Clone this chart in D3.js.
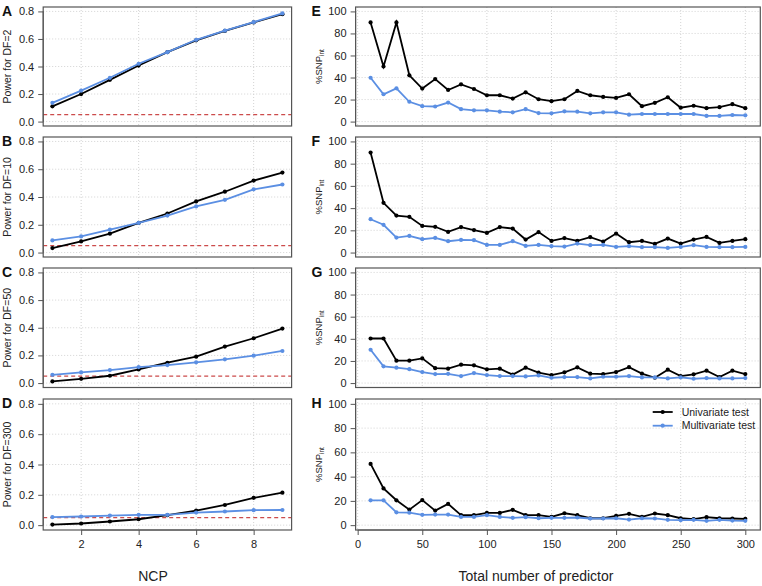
<!DOCTYPE html>
<html>
<head>
<meta charset="utf-8">
<script src="https://cdn.jsdelivr.net/npm/d3@7"></script>
<style>
  html, body { margin: 0; padding: 0; background: #fff; }
  svg { display: block; font-family: "Liberation Sans", Arial, sans-serif; }
  .grid line { stroke: #d3d3d3; stroke-width: 1; stroke-dasharray: 1,2; }
  .tick-lab { font-size: 11px; fill: #222; }
</style>
</head>
<body>
<div id="chart"></div>
<script>
/* Power curves (A-D) and %SNP_int curves (E-H), two tests each. */

const NCP = [1, 2, 3, 4, 5, 6, 7, 8, 9];
const DF = [2, 10, 50, 300];
const POWER_LETTERS = ["A", "B", "C", "D"];
const SNP_LETTERS = ["E", "F", "G", "H"];

const powerUni = [
  [0.111, 0.200, 0.303, 0.407, 0.504, 0.590, 0.658, 0.720, 0.780],
  [0.032, 0.080, 0.136, 0.213, 0.281, 0.368, 0.438, 0.518, 0.576],
  [0.012, 0.031, 0.053, 0.099, 0.147, 0.191, 0.264, 0.324, 0.394],
  [0.004, 0.011, 0.024, 0.039, 0.066, 0.096, 0.133, 0.180, 0.214],
];
const powerMulti = [
  [0.136, 0.225, 0.318, 0.420, 0.504, 0.594, 0.660, 0.722, 0.785],
  [0.087, 0.116, 0.165, 0.213, 0.266, 0.332, 0.380, 0.455, 0.490],
  [0.060, 0.077, 0.094, 0.116, 0.130, 0.150, 0.172, 0.198, 0.232],
  [0.053, 0.057, 0.063, 0.068, 0.068, 0.083, 0.090, 0.099, 0.100],
];
const ALPHA = 0.05;

const PREDICTORS = d3.range(10, 301, 10);
const snpUni = [
  [90, 50, 90, 42, 30, 38.6, 28.7, 33.8, 29.6, 23.9, 23.9, 20.9, 26.6, 20.3, 18.5, 20.3, 27.8, 23.9, 22.4, 21.5,
   24.8, 14, 17, 22.1, 12.6, 14.4, 12.2, 13.1, 15.8, 12.2],
  [90, 44.8, 33.3, 32.2, 24, 23.2, 18.6, 22.9, 20.2, 17.7, 22.9, 21.6, 11.7, 18.4, 10.5, 13, 10.5, 13.9, 9.9, 17.1,
   9.3, 10.5, 7.8, 12.6, 8.1, 11.7, 14.1, 8.7, 10.5, 12],
  [40.3, 40.3, 20.2, 20.2, 22.3, 13.5, 13, 16.6, 16, 12.4, 13, 7.6, 13.9, 9.4, 7.2, 9.7, 14.2, 8.5, 8.1, 9.9,
   14.4, 8.5, 4.8, 12.1, 6.3, 7.9, 11.2, 5.4, 11.2, 8.1],
  [50.5, 30.3, 20.5, 12.8, 20.7, 12, 17.5, 8.2, 8.2, 10.1, 10.1, 12.6, 8.2, 8.2, 6.8, 9.8, 8.2, 5.7, 5.7, 7.6,
   9.3, 6.8, 9.6, 8.2, 5.7, 4.9, 6.6, 5.7, 5.5, 5.2],
];
const snpMulti = [
  [39.8, 24.8, 30.2, 18, 14, 13.7, 17.3, 11.3, 10.2, 10.2, 9, 8.4, 11.3, 7.7, 7.5, 9.3, 9, 7.5, 8.4, 8.4,
   6.3, 6.9, 6.9, 6.9, 6.9, 6.9, 5.1, 5.1, 6, 5.7],
  [30, 25, 13.5, 15, 12, 13.2, 10.2, 11.4, 11.1, 6.9, 6.9, 10.2, 6, 6.9, 5.7, 5.4, 8.1, 6.6, 6.9, 5.1,
   5.7, 4.8, 4.8, 4.2, 5.1, 6.6, 5.1, 4.8, 4.8, 5.1],
  [30.1, 15.1, 13.9, 12.6, 9.9, 8.1, 8.4, 6.3, 9, 7.2, 6.3, 6.3, 6, 6.9, 4.8, 5.4, 5.4, 4.2, 5.7, 5.7,
   6.3, 5.1, 5.1, 4.2, 5.1, 3.9, 4.5, 4.2, 4.2, 4.5],
  [20.5, 20.5, 10.6, 10.3, 8.5, 8.7, 8.7, 6.8, 6.8, 8.2, 6.8, 6, 6.6, 5.7, 6, 6, 6.3, 5.5, 5.5, 5.7,
   4.6, 5.7, 5.5, 4.4, 4.1, 4.4, 3.6, 4.4, 3.8, 3.6],
];

const POWER_TICKS = [0, 0.2, 0.4, 0.6, 0.8];
const NCP_TICKS = [2, 4, 6, 8];
const SNP_TICKS = [0, 20, 40, 60, 80, 100];
const PRED_TICKS = [0, 50, 100, 150, 200, 250, 300];
const SERIES_NAMES = ["Univariate test", "Multivariate test"];

const COLORS = { uni: "#000000", multi: "#5b8fe3", alpha: "#cc4b4b", box: "#555555" };

const W = 762, H = 586;
const rows = [
  { top: 7, bottom: 126 },
  { top: 137, bottom: 257 },
  { top: 268, bottom: 387.5 },
  { top: 399, bottom: 530 },
];
const leftX = [43.2, 291.6];
const rightX = [355.6, 760.3];

const svg = d3.select("#chart").append("svg")
  .attr("width", W).attr("height", H).attr("viewBox", `0 0 ${W} ${H}`);

// R-like 4% expansion of a data range
function expand(lo, hi) {
  const d = (hi - lo) * 0.04;
  return [lo - d, hi + d];
}

function panel(opts) {
  const { x, y, xTicks, yTicks, xFmt, yFmt, showX, uni, multi, xs, letter, letterX, ylab, ylabX } = opts;
  const g = svg.append("g");
  const [x0, x1] = x.range();
  const [y1, y0] = y.range();

  // dotted grid
  const grid = g.append("g").attr("class", "grid");
  xTicks.forEach(t => grid.append("line")
    .attr("x1", x(t)).attr("x2", x(t)).attr("y1", y0).attr("y2", y1));
  yTicks.forEach(t => grid.append("line")
    .attr("x1", x0).attr("x2", x1).attr("y1", y(t)).attr("y2", y(t)));

  if (opts.alpha != null) {
    g.append("line")
      .attr("x1", x0).attr("x2", x1).attr("y1", y(opts.alpha)).attr("y2", y(opts.alpha))
      .attr("stroke", COLORS.alpha).attr("stroke-width", 1.2).attr("stroke-dasharray", "4,3");
  }

  const line = d3.line().x((d, i) => x(xs[i])).y(d => y(d));
  [[uni, COLORS.uni], [multi, COLORS.multi]].forEach(([vals, col]) => {
    g.append("path").datum(vals).attr("fill", "none")
      .attr("stroke", col).attr("stroke-width", 1.8).attr("d", line);
    g.selectAll(null).data(vals).enter().append("circle")
      .attr("cx", (d, i) => x(xs[i])).attr("cy", d => y(d)).attr("r", 2.1).attr("fill", col);
  });

  // box
  g.append("rect").attr("x", x0).attr("y", y0).attr("width", x1 - x0).attr("height", y1 - y0)
    .attr("fill", "none").attr("stroke", COLORS.box).attr("stroke-width", 1.2);

  // y axis
  const ya = g.append("g").attr("transform", `translate(${x0},0)`)
    .call(d3.axisLeft(y).tickValues(yTicks).tickSize(5).tickPadding(4).tickFormat(yFmt));
  ya.select(".domain").attr("stroke", COLORS.box)
    .attr("d", `M${0},${y(yTicks[0])}V${y(yTicks[yTicks.length - 1])}`);
  ya.selectAll(".tick line").attr("stroke", COLORS.box);
  ya.selectAll(".tick text").attr("class", "tick-lab").attr("font-family", null).attr("font-size", null);

  if (showX) {
    const xa = g.append("g").attr("transform", `translate(0,${y1})`)
      .call(d3.axisBottom(x).tickValues(xTicks).tickSize(5).tickPadding(5).tickFormat(xFmt));
    xa.select(".domain").attr("stroke", COLORS.box)
      .attr("d", `M${x(xTicks[0])},0H${x(xTicks[xTicks.length - 1])}`);
    xa.selectAll(".tick line").attr("stroke", COLORS.box);
    xa.selectAll(".tick text").attr("class", "tick-lab").attr("font-family", null).attr("font-size", null);
  }

  g.append("text").attr("x", letterX).attr("y", y0 + 8.5)
    .attr("font-weight", 700).attr("font-size", 14).attr("fill", "#111").text(letter);

  const lab = g.append("text")
    .attr("transform", `translate(${ylabX},${(y0 + y1) / 2}) rotate(-90)`)
    .attr("text-anchor", "middle").attr("fill", "#222");
  ylab(lab);
}

rows.forEach((r, i) => {
  const last = i === rows.length - 1;
  const yP = d3.scaleLinear().domain(expand(0, 0.8)).range([r.bottom, r.top]);
  const xP = d3.scaleLinear().domain(expand(1, 9)).range(leftX);
  panel({
    x: xP, y: yP, xTicks: NCP_TICKS, yTicks: POWER_TICKS,
    xFmt: d3.format("d"), yFmt: d3.format(".1f"), showX: last,
    uni: powerUni[i], multi: powerMulti[i], xs: NCP, alpha: ALPHA,
    letter: POWER_LETTERS[i], letterX: 2,
    ylabX: 10.5,
    ylab: t => t.attr("font-size", 10.5).text("Power for DF=" + DF[i]),
  });

  const yS = d3.scaleLinear().domain(expand(0, 100)).range([r.bottom, r.top]);
  const xS = d3.scaleLinear().domain(expand(10, 300)).range(rightX);
  panel({
    x: xS, y: yS, xTicks: PRED_TICKS, yTicks: SNP_TICKS,
    xFmt: d3.format("d"), yFmt: d3.format("d"), showX: last,
    uni: snpUni[i], multi: snpMulti[i], xs: PREDICTORS, alpha: null,
    letter: SNP_LETTERS[i], letterX: 311.5,
    ylabX: 322,
    ylab: t => {
      t.attr("font-size", 9.5);
      t.append("tspan").text("%SNP");
      t.append("tspan").attr("font-size", 6.5).attr("dy", 2).text("int");
    },
  });
});

// legend in panel H
const lg = svg.append("g").attr("transform", "translate(652.7,412)");
[COLORS.uni, COLORS.multi].forEach((col, i) => {
  const row = lg.append("g").attr("transform", `translate(0,${i * 13.7})`);
  row.append("line").attr("x1", 0).attr("x2", 20).attr("stroke", col).attr("stroke-width", 1.8);
  row.append("circle").attr("cx", 10).attr("r", 2.1).attr("fill", col);
  row.append("text").attr("x", 29).attr("dy", "0.35em").attr("font-size", 10.5)
    .attr("fill", "#222").text(SERIES_NAMES[i]);
});

svg.append("text").attr("x", 153).attr("y", 581).attr("text-anchor", "middle")
  .attr("font-size", 14).attr("fill", "#222").text("NCP");
svg.append("text").attr("x", 536).attr("y", 581).attr("text-anchor", "middle")
  .attr("font-size", 14).attr("fill", "#222").text("Total number of predictor");
</script>
</body>
</html>
